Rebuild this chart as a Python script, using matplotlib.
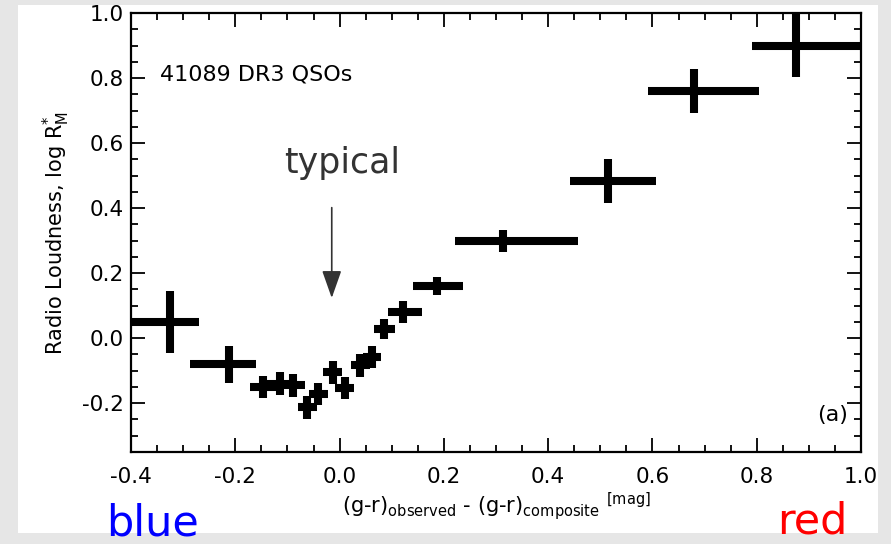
import numpy as np
import matplotlib
matplotlib.use("Agg")
import matplotlib.pyplot as plt
from matplotlib.patches import Rectangle

plt.rcParams['font.family'] = ['DejaVu Sans']
plt.rcParams['mathtext.default'] = 'regular'

# median colour offset and log R*_M of each bin
x_med = [-0.325, -0.212, -0.147, -0.114, -0.089, -0.062, -0.041, -0.013, 0.010,
         0.040, 0.062, 0.085, 0.122, 0.187, 0.313, 0.515, 0.680, 0.875]
y_val = [0.050, -0.080, -0.150, -0.140, -0.145, -0.212, -0.172, -0.105, -0.153,
         -0.083, -0.058, 0.028, 0.080, 0.160, 0.298, 0.483, 0.760, 0.900]
# bin edges in colour
x_left = [-0.400, -0.287, -0.172, -0.139, -0.112, -0.080, -0.059, -0.031, -0.008,
          0.022, 0.044, 0.066, 0.093, 0.141, 0.221, 0.442, 0.592, 0.791]
x_right = [-0.270, -0.160, -0.122, -0.089, -0.066, -0.044, -0.023, 0.005, 0.028,
           0.058, 0.080, 0.106, 0.158, 0.237, 0.457, 0.607, 0.804, 1.000]
# half error in log R*_M
y_err = [0.095, 0.057, 0.035, 0.035, 0.035, 0.035, 0.035, 0.035, 0.035,
         0.035, 0.035, 0.030, 0.033, 0.027, 0.034, 0.068, 0.068, 0.097]

x_ticks = [-0.4, -0.2, 0.0, 0.2, 0.4, 0.6, 0.8, 1.0]
y_ticks = [-0.2, 0.0, 0.2, 0.4, 0.6, 0.8, 1.0]

x_med = np.array(x_med)
xerr = [x_med - np.array(x_left), np.array(x_right) - x_med]

fig = plt.figure(figsize=(8.91, 5.44), dpi=100)
fig.patch.set_facecolor('#e6e6e6')
fig.patches.append(Rectangle((18/891, 11/544), 860/891, 528/544, transform=fig.transFigure,
                             facecolor='white', edgecolor='none', zorder=-5))

ax = fig.add_axes([131/891, 92/544, 730/891, 439/544])
ax.set_zorder(2)
ax.set_facecolor('white')

eb = ax.errorbar(x_med, y_val, xerr=xerr, yerr=y_err, fmt='none', ecolor='black',
                 elinewidth=5.8, capsize=0)

ax.set_xlim(-0.4, 1.0)
ax.set_ylim(-0.35, 1.0)
ax.set_xticks(x_ticks)
ax.set_xticklabels(['%.1f' % t for t in x_ticks])
ax.set_yticks(y_ticks)
ax.set_yticklabels(['%.1f' % t for t in y_ticks])
ax.xaxis.set_minor_locator(matplotlib.ticker.MultipleLocator(0.05))
ax.yaxis.set_minor_locator(matplotlib.ticker.MultipleLocator(0.05))
ax.tick_params(which='both', direction='in', top=True, right=True, width=1.3, labelsize=15.5)
ax.tick_params(which='major', length=10, pad=5)
ax.tick_params(which='minor', length=5)
ax.tick_params(axis='x', which='major', pad=11)
for s in ax.spines.values():
    s.set_linewidth(1.6)

ax.set_xlabel(r'(g-r)$_{observed}$ - (g-r)$_{composite}$ $^{[mag]}$', fontsize=15, labelpad=2)
ax.set_ylabel(r'Radio Loudness, log R$^{*}_{M}$', fontsize=15, labelpad=7)

ax.text(-0.345, 0.81, '41089 DR3 QSOs', fontsize=16, ha='left', va='center')
ax.text(0.975, -0.235, '(a)', fontsize=16, ha='right', va='center')

ax.annotate('', xy=(-0.015, 0.115), xytext=(-0.015, 0.41),
            arrowprops=dict(arrowstyle='-|>,head_length=1.7,head_width=0.6',
                            color='#333333', lw=1.2))
fig.text(342/891, 1 - 163/544, 'typical', fontsize=25, color='#333333', ha='center', va='center')

fig.text(153/891, 1 - 523/544, 'blue', fontsize=31, color='#0000ff', ha='center', va='center')
fig.text(812/891, 1 - 521/544, 'red', fontsize=31, color='#ff0000', ha='center', va='center')

fig.savefig('out.png', dpi=100, facecolor=fig.get_facecolor())
